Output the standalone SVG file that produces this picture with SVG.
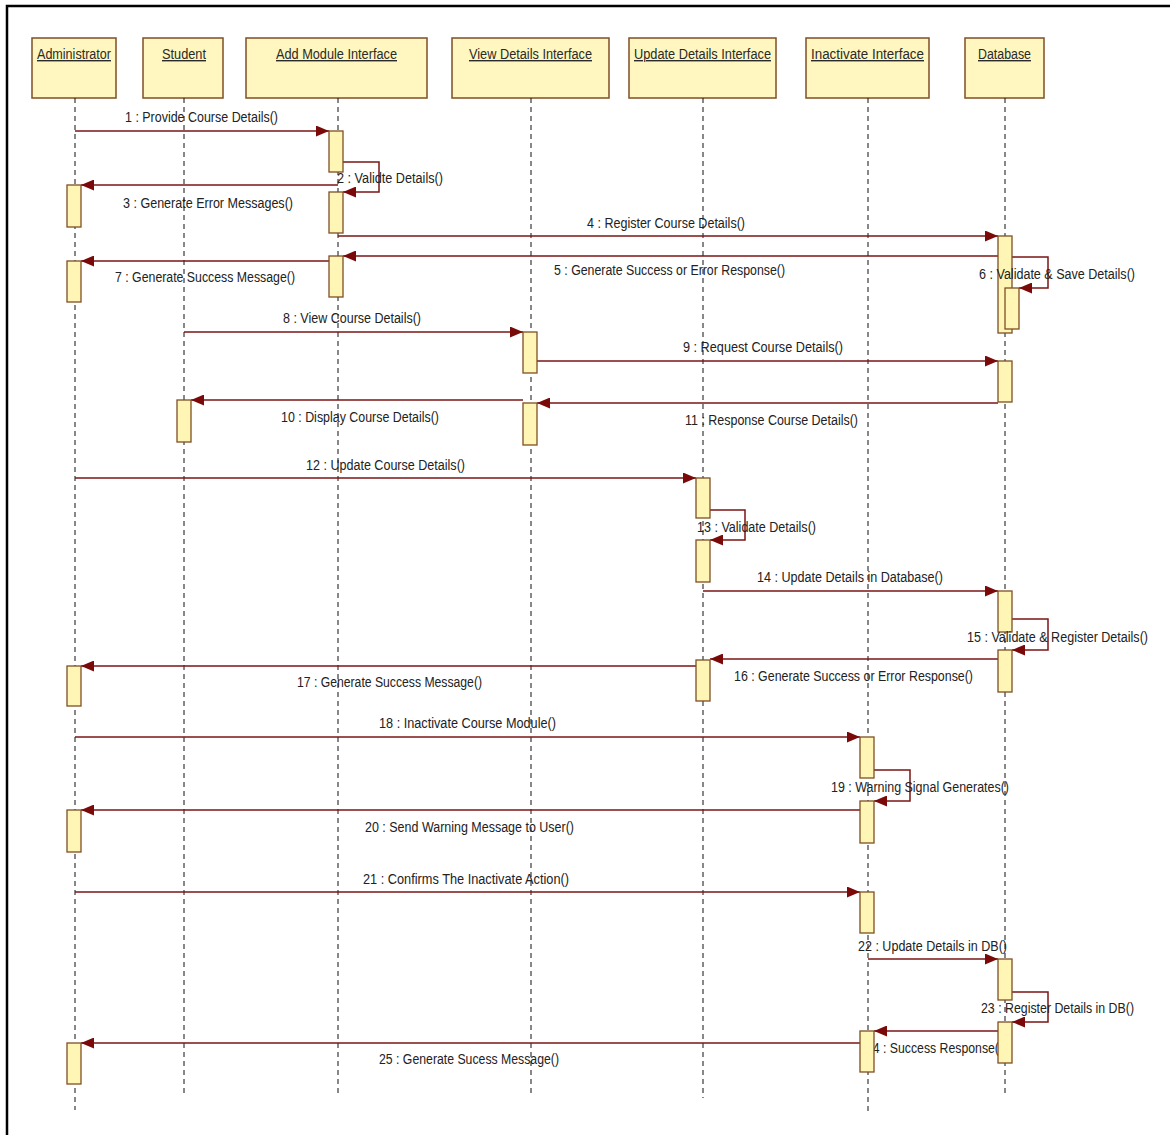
<svg xmlns="http://www.w3.org/2000/svg" width="1170" height="1135" viewBox="0 0 1170 1135">
<defs>
<marker id="ah" markerUnits="userSpaceOnUse" markerWidth="13" markerHeight="11" refX="13" refY="5.5" orient="auto">
<path d="M0,0 L13,5.5 L0,11 z" fill="#7a0a0a"/>
</marker>
<style>
.hdr{fill:#fff7bf;stroke:#7f4f24;stroke-width:1.5}
.ht{font-family:"Liberation Sans",Arial,sans-serif;font-size:14px;fill:#2a2a2a;text-decoration:underline}
.ll{stroke:#111;stroke-width:1;stroke-dasharray:5,4;fill:none}
.act{fill:#fff5b5;stroke:#7f4f24;stroke-width:1.3}
.msg{stroke:#7a1414;stroke-width:1.5;fill:none;marker-end:url(#ah)}
.lbl{font-family:"Liberation Sans",Arial,sans-serif;font-size:14px;fill:#222}
</style>
</defs>
<rect x="0" y="0" width="1170" height="1135" fill="#fff"/>
<path d="M7,1135 V6 H1170" fill="none" stroke="#000" stroke-width="2.5"/>

<g id="administrator">
<rect class="hdr" x="32" y="38" width="84" height="60"/>
<text class="ht" x="37" y="59" textLength="74" lengthAdjust="spacingAndGlyphs">Administrator</text>
<line class="ll" x1="75" y1="98" x2="75" y2="1110"/>
</g>
<g id="student">
<rect class="hdr" x="143" y="38" width="80" height="60"/>
<text class="ht" x="162" y="59" textLength="44" lengthAdjust="spacingAndGlyphs">Student</text>
<line class="ll" x1="184" y1="98" x2="184" y2="1097"/>
</g>
<g id="add-module-interface">
<rect class="hdr" x="246" y="38" width="181" height="60"/>
<text class="ht" x="276" y="59" textLength="121" lengthAdjust="spacingAndGlyphs">Add Module Interface</text>
<line class="ll" x1="338" y1="98" x2="338" y2="1097"/>
</g>
<g id="view-details-interface">
<rect class="hdr" x="452" y="38" width="157" height="60"/>
<text class="ht" x="469" y="59" textLength="123" lengthAdjust="spacingAndGlyphs">View Details Interface</text>
<line class="ll" x1="531" y1="98" x2="531" y2="1097"/>
</g>
<g id="update-details-interface">
<rect class="hdr" x="629" y="38" width="147" height="60"/>
<text class="ht" x="634" y="59" textLength="137" lengthAdjust="spacingAndGlyphs">Update Details Interface</text>
<line class="ll" x1="703" y1="98" x2="703" y2="1098"/>
</g>
<g id="inactivate-interface">
<rect class="hdr" x="806" y="38" width="123" height="60"/>
<text class="ht" x="811" y="59" textLength="113" lengthAdjust="spacingAndGlyphs">Inactivate Interface</text>
<line class="ll" x1="868" y1="98" x2="868" y2="1112"/>
</g>
<g id="database">
<rect class="hdr" x="965" y="38" width="79" height="60"/>
<text class="ht" x="978" y="59" textLength="53" lengthAdjust="spacingAndGlyphs">Database</text>
<line class="ll" x1="1005" y1="98" x2="1005" y2="1097"/>
</g>

<g id="connectors">
<path class="msg" d="M75,131 H329"/>
<path class="msg" d="M343,162 H379 V192 H343"/>
<path class="msg" d="M338,185 H81"/>
<path class="msg" d="M338,236 H998"/>
<path class="msg" d="M998,256 H343"/>
<path class="msg" d="M1012,257 H1048 V288 H1019"/>
<path class="msg" d="M329,261 H81"/>
<path class="msg" d="M184,332 H523"/>
<path class="msg" d="M537,361 H998"/>
<path class="msg" d="M523,400 H191"/>
<path class="msg" d="M998,403 H537"/>
<path class="msg" d="M75,478 H696"/>
<path class="msg" d="M710,510 H745 V540 H710"/>
<path class="msg" d="M703,591 H998"/>
<path class="msg" d="M1012,619 H1048 V650 H1012"/>
<path class="msg" d="M998,659 H710"/>
<path class="msg" d="M696,666 H81"/>
<path class="msg" d="M75,737 H860"/>
<path class="msg" d="M874,770 H910 V801 H874"/>
<path class="msg" d="M860,810 H81"/>
<path class="msg" d="M75,892 H860"/>
<path class="msg" d="M868,959 H998"/>
<path class="msg" d="M1012,992 H1048 V1022 H1012"/>
<path class="msg" d="M998,1031 H874"/>
<path class="msg" d="M860,1043 H81"/>

<text class="lbl" x="125" y="122" textLength="153" lengthAdjust="spacingAndGlyphs">1 : Provide Course Details()</text>
<text class="lbl" x="337" y="183" textLength="106" lengthAdjust="spacingAndGlyphs">2 : Validte Details()</text>
<text class="lbl" x="123" y="208" textLength="170" lengthAdjust="spacingAndGlyphs">3 : Generate Error Messages()</text>
<text class="lbl" x="587" y="228" textLength="158" lengthAdjust="spacingAndGlyphs">4 : Register Course Details()</text>
<text class="lbl" x="554" y="275" textLength="231" lengthAdjust="spacingAndGlyphs">5 : Generate Success or Error Response()</text>
<text class="lbl" x="115" y="282" textLength="180" lengthAdjust="spacingAndGlyphs">7 : Generate Success Message()</text>
<text class="lbl" x="283" y="323" textLength="138" lengthAdjust="spacingAndGlyphs">8 : View Course Details()</text>
<text class="lbl" x="683" y="352" textLength="160" lengthAdjust="spacingAndGlyphs">9 : Request Course Details()</text>
<text class="lbl" x="281" y="422" textLength="158" lengthAdjust="spacingAndGlyphs">10 : Display Course Details()</text>
<text class="lbl" x="685" y="425" textLength="173" lengthAdjust="spacingAndGlyphs">11 : Response Course Details()</text>
<text class="lbl" x="306" y="470" textLength="159" lengthAdjust="spacingAndGlyphs">12 : Update Course Details()</text>
<text class="lbl" x="697" y="532" textLength="119" lengthAdjust="spacingAndGlyphs">13 : Validate Details()</text>
<text class="lbl" x="757" y="582" textLength="186" lengthAdjust="spacingAndGlyphs">14 : Update Details in Database()</text>
<text class="lbl" x="734" y="681" textLength="239" lengthAdjust="spacingAndGlyphs">16 : Generate Success or Error Response()</text>
<text class="lbl" x="297" y="687" textLength="185" lengthAdjust="spacingAndGlyphs">17 : Generate Success Message()</text>
<text class="lbl" x="379" y="728" textLength="177" lengthAdjust="spacingAndGlyphs">18 : Inactivate Course Module()</text>
<text class="lbl" x="831" y="792" textLength="178" lengthAdjust="spacingAndGlyphs">19 : Warning Signal Generates()</text>
<text class="lbl" x="365" y="832" textLength="209" lengthAdjust="spacingAndGlyphs">20 : Send Warning Message to User()</text>
<text class="lbl" x="363" y="884" textLength="206" lengthAdjust="spacingAndGlyphs">21 : Confirms The Inactivate Action()</text>
<text class="lbl" x="858" y="951" textLength="149" lengthAdjust="spacingAndGlyphs">22 : Update Details in DB()</text>
<text class="lbl" x="866" y="1053" textLength="137" lengthAdjust="spacingAndGlyphs">24 : Success Response()</text>
<text class="lbl" x="379" y="1064" textLength="180" lengthAdjust="spacingAndGlyphs">25 : Generate Sucess Message()</text>
</g>

<g id="activations">
<rect class="act" x="67" y="185" width="14" height="42"/>
<rect class="act" x="67" y="261" width="14" height="41"/>
<rect class="act" x="67" y="666" width="14" height="40"/>
<rect class="act" x="67" y="810" width="14" height="42"/>
<rect class="act" x="67" y="1043" width="14" height="41"/>
<rect class="act" x="177" y="400" width="14" height="42"/>
<rect class="act" x="329" y="131" width="14" height="41"/>
<rect class="act" x="329" y="192" width="14" height="41"/>
<rect class="act" x="329" y="256" width="14" height="41"/>
<rect class="act" x="523" y="332" width="14" height="41"/>
<rect class="act" x="523" y="403" width="14" height="42"/>
<rect class="act" x="696" y="478" width="14" height="40"/>
<rect class="act" x="696" y="540" width="14" height="42"/>
<rect class="act" x="696" y="660" width="14" height="41"/>
<rect class="act" x="860" y="737" width="14" height="41"/>
<rect class="act" x="860" y="801" width="14" height="42"/>
<rect class="act" x="860" y="892" width="14" height="41"/>
<rect class="act" x="860" y="1031" width="14" height="41"/>
<rect class="act" x="998" y="236" width="14" height="97"/>
<rect class="act" x="1005" y="288" width="14" height="41"/>
<rect class="act" x="998" y="361" width="14" height="41"/>
<rect class="act" x="998" y="591" width="14" height="41"/>
<rect class="act" x="998" y="650" width="14" height="42"/>
<rect class="act" x="998" y="959" width="14" height="41"/>
<rect class="act" x="998" y="1022" width="14" height="41"/>
</g>

<g id="self-labels">
<text class="lbl" x="979" y="279" textLength="156" lengthAdjust="spacingAndGlyphs">6 : Validate &amp; Save Details()</text>
<text class="lbl" x="967" y="642" textLength="181" lengthAdjust="spacingAndGlyphs">15 : Validate &amp; Register Details()</text>
<text class="lbl" x="981" y="1013" textLength="153" lengthAdjust="spacingAndGlyphs">23 : Register Details in DB()</text>
</g>
</svg>
